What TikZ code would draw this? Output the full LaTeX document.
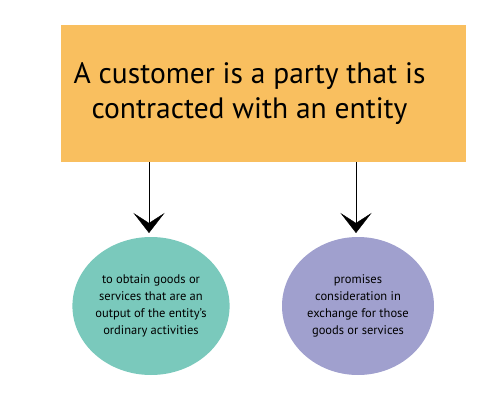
\documentclass[tikz,border=0pt]{standalone}
\usepackage{fontspec}
\setmainfont{PT Sans}
\usetikzlibrary{arrows.meta,positioning,shapes.geometric}
\definecolor{custOrange}{RGB}{249,191,95}
\definecolor{custTeal}{RGB}{122,201,188}
\definecolor{custLilac}{RGB}{160,160,206}

\begin{document}
\begin{tikzpicture}[x=1pt,y=1pt,
    headbox/.style={fill=custOrange,minimum width=405pt,minimum height=137pt,inner sep=0pt},
    headtext/.style={align=center,font=\fontsize{29.5}{35}\selectfont,inner sep=0pt},
    goalbub/.style={ellipse,minimum width=152pt,minimum height=138pt,align=center,
      font=\fontsize{12.5}{17}\selectfont,inner sep=0pt},
    arrow/.style={-{Stealth[length=20pt,width=31pt,inset=10pt]},thin,black}
  ]
    \useasboundingbox (0,0) rectangle (501,-401);
    \node[headbox] (cust) at (263.5,-93.5) {};
    \node[headtext] (custtxt) at ([xshift=-14pt]cust.center) {A customer is a party that is\\contracted with an entity};
    \node[goalbub,fill=custTeal] (obtain) at (151,-306) {to obtain goods or\\services that are an\\output of the entity’s\\ordinary activities};
    \node[goalbub,fill=custLilac] (promise) at (358,-306) {promises\\consideration in\\exchange for those\\goods or services};
    \coordinate (tipA) at (149,-233);
    \coordinate (tipB) at (356,-233);
    \draw[arrow] (cust.south -| tipA) -- (tipA);
    \draw[arrow] (cust.south -| tipB) -- (tipB);
  \end{tikzpicture}
\end{document}
